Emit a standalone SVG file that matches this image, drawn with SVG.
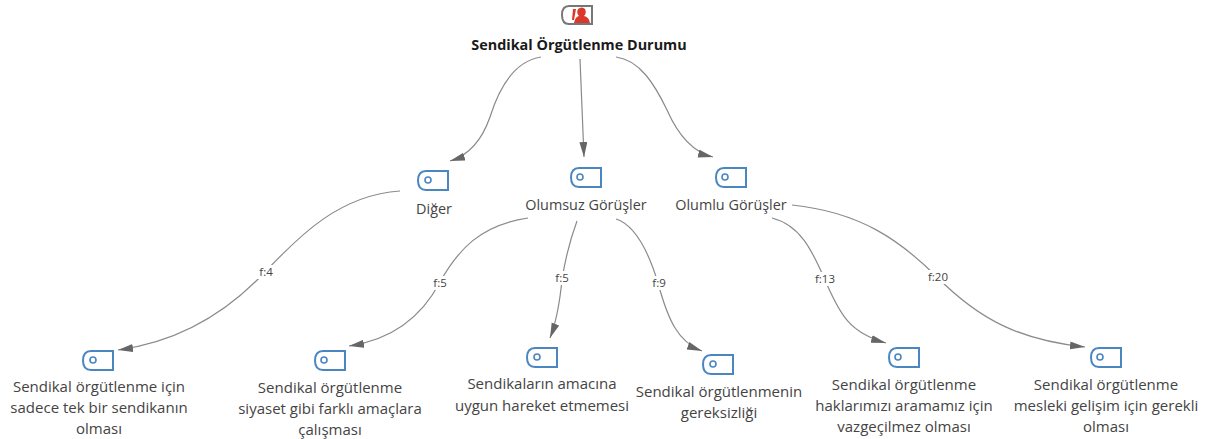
<svg xmlns="http://www.w3.org/2000/svg" width="1205" height="439" viewBox="0 0 1205 439">
<style>
text{font-family:"Open Sans","Noto Sans","Liberation Sans",sans-serif;font-size:14.4px;fill:#444;text-anchor:middle}
.root{font-weight:700;fill:#1a1a1a}
.lb{font-size:11.5px}
.leaf text{font-size:15px}
.e{fill:none;stroke:#8a8a8a;stroke-width:1.2;marker-end:url(#a)}
.t{fill:#fff;stroke:#4a86c0;stroke-width:2}
.c{fill:none;stroke:#4a86c0;stroke-width:1.6}
</style>
<defs>
<marker id="a" markerUnits="userSpaceOnUse" markerWidth="18" markerHeight="10" refX="15" refY="4" orient="auto"><path d="M0 0L15 4L0 8Z" fill="#666"/></marker>
<path id="tag" d="M8 0H30V19H8Q0 19 0 9.500Q0 0 8 0Z"/>
</defs>
<g id="connectors">
<path class="e" d="M541 57C515 61 500 85 490 117C482 140 470 155 450 161"/>
<path class="e" d="M580 59L584 157"/>
<path class="e" d="M616 57C640 60 655 85 667 110C678 135 692 152 713 157"/>
<path class="e" d="M400 191C340 195 300 235 265 272C220 320 170 343 118 350"/>
<path class="e" d="M528 218C480 225 458 250 440 282C420 320 390 340 349 346"/>
<path class="e" d="M577 221C570 240 565 260 562 280C560 300 557 320 550 338"/>
<path class="e" d="M616 219C635 225 648 250 658 283C668 320 678 342 702 351"/>
<path class="e" d="M772 218C800 225 812 250 825 280C840 315 850 333 886 343"/>
<path class="e" d="M792 205C860 212 900 240 938 278C980 320 1020 340 1085 347"/>
<rect x="255" y="265" width="22" height="14" fill="#fff"/>
<text class="lb" x="266" y="276">f:4</text>
<rect x="429" y="276" width="22" height="14" fill="#fff"/>
<text class="lb" x="440" y="287">f:5</text>
<rect x="551" y="271" width="22" height="14" fill="#fff"/>
<text class="lb" x="562" y="282">f:5</text>
<rect x="648" y="276" width="22" height="14" fill="#fff"/>
<text class="lb" x="659" y="287">f:9</text>
<rect x="811" y="272" width="28" height="14" fill="#fff"/>
<text class="lb" x="825" y="283">f:13</text>
<rect x="924" y="270" width="28" height="14" fill="#fff"/>
<text class="lb" x="938" y="281">f:20</text>
</g>
<g id="root">
<path d="M569 6H592V24H569Q562 24 562 15Q562 6 569 6Z" fill="#fff" stroke="#777" stroke-width="2"/>
<path d="M574 23Q575 17 579 16Q576 13 578 9Q582 6 585 9Q587 13 584 16Q589 17 590 23ZM573 9H576L574 20H572Z" fill="#d8392b"/>
<text class="root" x="579" y="50">Sendikal Örgütlenme Durumu</text>
</g>
<g id="n-diger"><use href="#tag" x="418" y="171" class="t"/><circle cx="428" cy="180" r="3" class="c"/><text x="434" y="214">Diğer</text></g>
<g id="n-olumsuz"><use href="#tag" x="571" y="168" class="t"/><circle cx="580" cy="177" r="3" class="c"/><text x="586" y="210">Olumsuz Görüşler</text></g>
<g id="n-olumlu"><use href="#tag" x="716" y="168" class="t"/><circle cx="725" cy="177" r="3" class="c"/><text x="731" y="210">Olumlu Görüşler</text></g>
<g id="n-1" class="leaf"><use href="#tag" x="83" y="351" class="t"/><circle cx="93" cy="360" r="3" class="c"/><text x="99" y="392">Sendikal örgütlenme için</text><text x="99" y="413">sadece tek bir sendikanın</text><text x="99" y="434">olması</text></g>
<g id="n-2" class="leaf"><use href="#tag" x="315" y="351" class="t"/><circle cx="324" cy="360" r="3" class="c"/><text x="330" y="393">Sendikal örgütlenme</text><text x="330" y="414">siyaset gibi farklı amaçlara</text><text x="330" y="435">çalışması</text></g>
<g id="n-3" class="leaf"><use href="#tag" x="527" y="348" class="t"/><circle cx="537" cy="357" r="3" class="c"/><text x="542" y="389">Sendikaların amacına</text><text x="542" y="411">uygun hareket etmemesi</text></g>
<g id="n-4" class="leaf"><use href="#tag" x="703" y="355" class="t"/><circle cx="713" cy="364" r="3" class="c"/><text x="719" y="397">Sendikal örgütlenmenin</text><text x="719" y="418">gereksizliği</text></g>
<g id="n-5" class="leaf"><use href="#tag" x="889" y="348" class="t"/><circle cx="898" cy="357" r="3" class="c"/><text x="904" y="390">Sendikal örgütlenme</text><text x="904" y="411">haklarımızı aramamız için</text><text x="904" y="432">vazgeçilmez olması</text></g>
<g id="n-6" class="leaf"><use href="#tag" x="1091" y="348" class="t"/><circle cx="1100" cy="357" r="3" class="c"/><text x="1106" y="390">Sendikal örgütlenme</text><text x="1106" y="411">mesleki gelişim için gerekli</text><text x="1106" y="432">olması</text></g>
</svg>
